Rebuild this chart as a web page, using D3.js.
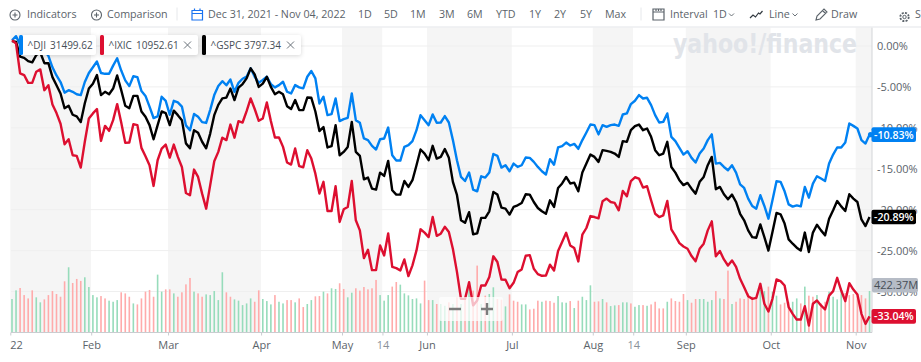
<!DOCTYPE html>
<html>
<head>
<meta charset="utf-8">
<script src="https://cdn.jsdelivr.net/npm/d3@7/dist/d3.min.js"></script>
<style>
  html, body { margin: 0; padding: 0; background: #fff; overflow: hidden; }
  svg { display: block; font-family: "Open Sans", sans-serif; }
</style>
</head>
<body>
<svg id="chart" width="921" height="362"></svg>
<script>
// % change since Dec 31 2021, one value per trading day from Jan 3 to Nov 4 2022
const dji = [
  0.7, 1.2, 0.2, -0.3, -0.3, -0.7, -0.3, -0.1, -0.6, -1.2,
  -2.6, -3.6, -4.4, -5.7, -5.4, -5.6, -5.9, -6.0, -4.4, -3.3,
  -2.6, -1.9, -3.3, -3.4, -3.4, -2.4, -1.5, -3.0, -4.2, -4.9,
  -3.7, -3.8, -5.5, -6.1, -7.4, -8.8, -8.6, -6.2, -6.7, -8.4,
  -6.7, -6.9, -7.4, -9.7, -10.3, -8.3, -8.65, -9.3, -9.4, -7.8,
  -6.0, -4.9, -4.3, -4.8, -4.1, -5.6, -4.5, -4.0, -3.75, -2.73,
  -3.76, -4.49, -4.16, -3.76, -4.65, -5.06, -4.78, -4.37, -5.59, -5.8,
  -4.78, -5.06, -5.18, -3.76, -3.06, -3.96, -7.02, -6.2, -8.45, -8.33,
  -6.41, -9.18, -8.94, -8.78, -5.8, -9.06, -9.39, -11.3, -11.5, -12.2,
  -12.65, -11.39, -11.3, -9.96, -13.35, -14.0, -14.0, -12.33, -12.12, -11.63,
  -10.29, -8.45, -9.06, -9.67, -8.37, -9.39, -9.35, -8.57, -9.35, -11.5,
  -13.96, -16.0, -16.5, -15.47, -17.55, -17.76, -15.92, -16.08, -15.47, -13.2,
  -13.43, -14.86, -14.57, -15.3, -14.37, -14.78, -14.57, -13.63, -13.67, -14.16,
  -14.78, -15.3, -15.7, -13.84, -14.5, -12.4, -12.24, -11.8, -12.16, -11.96,
  -12.57, -11.5, -10.57, -9.6, -9.67, -10.8, -9.67, -9.88, -9.67, -9.6,
  -9.76, -8.37, -8.24, -7.1, -6.69, -6.0, -6.41, -6.33, -7.22, -8.45,
  -9.35, -9.27, -8.24, -11.1, -11.63, -12.45, -13.27, -12.86, -13.67, -14.24,
  -13.14, -12.53, -11.5, -10.8, -14.37, -14.29, -14.78, -15.18, -14.57, -15.47,
  -16.9, -17.35, -18.65, -19.55, -19.88, -18.24, -19.55, -21.1, -18.86, -16.53,
  -16.6, -17.76, -19.35, -19.63, -19.47, -19.6, -17.22, -18.53, -16.82, -15.92,
  -16.2, -16.5, -14.37, -13.27, -12.4, -12.4, -11.8, -9.47, -9.76, -10.08,
  -11.5, -11.92, -10.83
];
const gspc = [
  0.6, 0.5, -1.3, -1.45, -1.85, -2.0, -1.1, -0.8, -2.1, -2.1,
  -3.8, -4.8, -5.8, -7.6, -7.3, -8.4, -8.6, -9.3, -7.0, -5.2,
  -4.6, -3.55, -6.0, -5.6, -5.9, -5.2, -3.6, -5.4, -7.3, -7.6,
  -6.1, -6.1, -8.0, -8.65, -9.67, -11.4, -9.67, -8.0, -8.2, -9.67,
  -7.9, -8.45, -9.06, -11.9, -12.5, -10.3, -10.6, -11.7, -12.5, -10.7,
  -8.45, -7.2, -6.4, -6.3, -5.2, -6.6, -5.1, -4.65, -3.96, -2.73,
  -3.47, -5.0, -4.6, -3.76, -5.0, -5.9, -5.6, -5.9, -7.35, -7.7,
  -6.6, -7.84, -7.84, -6.3, -6.33, -8.0, -10.4, -9.9, -12.4, -12.24,
  -9.67, -13.35, -12.94, -12.33, -9.27, -12.94, -13.43, -16.3, -16.08, -17.43,
  -17.55, -15.47, -15.88, -14.04, -17.63, -18.16, -18.16, -16.5, -17.22, -16.4,
  -14.57, -12.65, -13.14, -13.96, -12.2, -13.76, -13.55, -12.6, -13.67, -16.6,
  -18.2, -21.3, -21.6, -20.3, -23.0, -22.9, -21.0, -21.0, -20.2, -17.84,
  -18.16, -19.76, -19.88, -20.6, -19.67, -19.47, -19.18, -18.12, -18.16, -19.06,
  -19.8, -20.2, -20.5, -18.86, -19.67, -17.35, -16.8, -16.0, -16.8, -16.7,
  -17.76, -15.47, -14.37, -13.27, -13.55, -14.16, -12.73, -12.82, -12.94, -13.14,
  -13.55, -11.63, -11.71, -10.29, -9.8, -9.6, -10.29, -10.08, -11.1, -12.73,
  -13.35, -13.14, -11.71, -14.78, -15.47, -16.4, -17.0, -16.73, -17.43, -18.04,
  -16.6, -16.0, -14.57, -13.55, -17.5, -17.22, -18.12, -18.73, -18.16, -19.06,
  -20.5, -21.3, -22.53, -23.35, -23.43, -21.8, -23.35, -25.0, -22.73, -20.4,
  -20.57, -21.7, -23.63, -24.16, -24.65, -25.0, -22.8, -25.18, -22.8, -21.84,
  -22.53, -23.14, -21.1, -20.08, -18.94, -19.6, -20.16, -18.12, -18.65, -19.06,
  -21.2, -22.0, -20.89
];
const ixic = [
  0.7, 0.3, -3.35, -3.55, -4.5, -4.5, -3.14, -2.86, -5.4, -4.8,
  -7.14, -8.2, -9.5, -12.0, -11.4, -13.35, -13.43, -14.86, -11.7, -8.86,
  -8.24, -7.7, -11.6, -9.76, -10.37, -9.06, -7.1, -9.35, -11.84, -11.8,
  -9.55, -9.67, -12.45, -13.47, -14.57, -17.1, -13.96, -12.53, -12.04, -13.63,
  -12.04, -13.55, -14.78, -17.96, -18.24, -15.1, -16.0, -18.04, -19.88, -17.0,
  -14.08, -12.94, -11.2, -11.5, -9.6, -11.2, -9.18, -9.35, -7.96, -6.41,
  -7.7, -9.14, -8.86, -6.9, -9.18, -11.18, -11.18, -12.33, -14.24, -14.49,
  -12.53, -14.69, -14.82, -12.73, -13.76, -15.6, -18.04, -16.6, -20.16, -20.16,
  -17.14, -21.5, -19.96, -19.67, -16.5, -21.3, -22.53, -25.92, -24.9, -27.39,
  -27.39, -24.37, -25.6, -22.9, -27.0, -27.14, -27.43, -26.08, -28.12, -26.8,
  -24.98, -22.4, -22.8, -23.35, -20.9, -23.2, -22.94, -22.1, -22.73, -24.8,
  -27.6, -30.9, -30.9, -28.86, -31.7, -31.1, -29.27, -29.27, -28.24, -25.7,
  -26.4, -28.53, -28.57, -29.6, -28.94, -27.63, -27.3, -25.63, -25.55, -27.22,
  -27.88, -28.08, -28.04, -26.73, -27.43, -25.06, -23.96, -22.82, -24.37, -24.69,
  -26.33, -23.06, -22.24, -20.78, -20.9, -21.06, -18.98, -18.65, -19.06, -19.18,
  -20.08, -17.71, -18.37, -16.5, -16.04, -16.2, -17.3, -17.14, -18.86, -20.5,
  -20.9, -20.7, -18.94, -22.4, -23.2, -24.08, -24.5, -24.78, -25.67, -26.3,
  -24.78, -24.16, -22.53, -21.43, -25.7, -25.06, -26.08, -26.82, -26.2, -27.0,
  -28.45, -29.47, -30.57, -30.9, -30.78, -29.06, -31.5, -32.45, -30.9, -28.53,
  -28.73, -29.27, -31.9, -32.73, -33.43, -33.43, -31.8, -34.16, -31.5, -31.1,
  -31.7, -32.2, -30.5, -29.96, -28.33, -29.88, -31.18, -28.98, -29.76, -30.37,
  -32.73, -33.96, -33.04
];
// volume in millions
const volume = [
  341, 429, 453, 381, 347, 429, 358, 307, 337, 381,
  422, 392, 364, 521, 664, 504, 545, 525, 562, 463,
  381, 358, 371, 347, 324, 313, 330, 409, 398, 364,
  296, 286, 347, 416, 433, 364, 589, 416, 439, 439,
  398, 364, 409, 490, 555, 416, 398, 364, 388, 381,
  422, 330, 613, 409, 364, 337, 324, 279, 296, 347,
  313, 429, 341, 320, 286, 381, 313, 296, 330, 330,
  307, 347, 259, 290, 330, 368, 371, 416, 398, 450,
  443, 501, 443, 358, 405, 450, 426, 463, 439, 450,
  535, 381, 324, 381, 467, 514, 487, 398, 378, 341,
  347, 296, 528, 330, 330, 290, 290, 272, 307, 290,
  358, 290, 358, 443, 426, 681, 290, 375, 392, 460,
  341, 334, 266, 388, 324, 313, 286, 286, 235, 242,
  324, 313, 324, 320, 303, 371, 307, 303, 320, 249,
  324, 364, 330, 480, 313, 317, 341, 307, 269, 276,
  279, 307, 307, 296, 262, 279, 279, 272, 286, 313,
  245, 245, 313, 347, 320, 313, 392, 330, 303, 341,
  341, 341, 313, 330, 422, 347, 341, 630, 290, 313,
  347, 341, 398, 364, 347, 433, 422, 467, 416, 375,
  286, 303, 313, 313, 347, 296, 467, 375, 364, 381,
  296, 313, 416, 364, 337, 450, 402, 381, 392, 392,
  381, 347, 422.37
];
// 1 = up day (green), 0 = down day (red)
const volumeUp = [
  1, 1, 0, 0, 0, 0, 1, 1, 0, 0,
  0, 0, 0, 0, 1, 0, 0, 0, 1, 1,
  1, 1, 0, 0, 1, 1, 1, 0, 0, 0,
  1, 0, 0, 0, 0, 0, 1, 1, 0, 0,
  1, 0, 0, 0, 0, 1, 0, 0, 1, 1,
  1, 1, 1, 0, 0, 1, 1, 1, 1, 1,
  0, 0, 1, 1, 1, 0, 1, 1, 0, 0,
  1, 0, 0, 1, 1, 0, 0, 1, 0, 1,
  1, 0, 0, 1, 1, 0, 0, 0, 0, 0,
  0, 1, 1, 1, 0, 0, 1, 1, 1, 1,
  1, 1, 0, 0, 1, 0, 1, 1, 0, 1,
  0, 1, 0, 1, 0, 0, 1, 0, 1, 1,
  0, 0, 1, 0, 0, 0, 1, 1, 0, 0,
  0, 1, 0, 0, 0, 1, 1, 1, 0, 1,
  0, 1, 1, 1, 0, 0, 1, 0, 1, 1,
  0, 1, 1, 0, 1, 1, 0, 1, 0, 0,
  0, 0, 1, 0, 0, 0, 0, 1, 0, 0,
  1, 1, 1, 1, 0, 1, 0, 0, 1, 0,
  0, 0, 0, 0, 0, 1, 1, 0, 1, 1,
  0, 0, 0, 1, 1, 0, 1, 0, 0, 1,
  0, 0, 1, 1, 1, 1, 0, 0, 0, 0,
  0, 0, 1
];
const tickDays = [0, 20, 39, 62, 82, 92, 103, 124, 144, 154, 167, 188, 209];
const tickLabels = ["22", "Feb", "Mar", "Apr", "May", "14", "Jun", "Jul", "Aug", "14", "Sep", "Oct", "Nov"];
const pctTicks = [0, -5, -10, -15, -20, -25, -30];
const rangeButtons = ["1D", "5D", "1M", "3M", "6M", "YTD", "1Y", "2Y", "5Y", "Max"];
const rangeButtonX = [358, 384, 410, 439, 467, 496, 529, 554, 580, 605];

const svg = d3.select("#chart");
const lastDay = dji.length - 1;
const left = 12, plotRight = 872, plotBottom = 332.5;

const x = d3.scaleLinear().domain([0, lastDay]).range([left, left + 4.045 * lastDay]);
// month ticks sit just ahead of their bar
const xTick = d3.scaleLinear().domain([0.42, lastDay + 0.42]).range(x.range());
const y = d3.scaleLinear().domain([0, -30]).range([46, 291.5]);
const yVol = d3.scaleLinear().domain([0, 422.37]).range([plotBottom, 291]);

// alternating month bands
const bandEdges = tickDays.map(d => xTick(d)).concat([plotRight]);
svg.append("g").selectAll("rect")
  .data(d3.pairs(bandEdges))
  .join("rect")
    .attr("x", d => d[0])
    .attr("y", 27)
    .attr("width", d => d[1] - d[0])
    .attr("height", plotBottom - 27)
    .attr("fill", (d, i) => i % 2 ? "#fff" : "#f5f5f5");

// horizontal grid
svg.append("g").selectAll("line")
  .data(pctTicks)
  .join("line")
    .attr("x1", 11).attr("x2", plotRight)
    .attr("y1", d => y(d)).attr("y2", d => y(d))
    .attr("stroke", "#efefef");

// watermark sits behind the lines
svg.append("text")
  .attr("x", 673).attr("y", 53)
  .attr("font-family", "'DejaVu Sans', sans-serif")
  .attr("font-weight", 700)
  .attr("font-size", 27)
  .attr("fill", "#e1e4e9")
  .attr("textLength", 184)
  .attr("lengthAdjust", "spacingAndGlyphs")
  .text("yahoo!/finance");

// volume bars
svg.append("g").selectAll("rect")
  .data(volume)
  .join("rect")
    .attr("x", (d, i) => x(i) - 0.8)
    .attr("y", d => yVol(d))
    .attr("width", 1.6)
    .attr("height", d => plotBottom - yVol(d))
    .attr("fill", (d, i) => volumeUp[i] ? "#97dcbb" : "#ffabab");

// axes
const xAxis = d3.axisBottom(xTick).tickValues(tickDays).tickSize(3)
  .tickFormat((d, i) => tickLabels[i]);
const gx = svg.append("g")
  .attr("transform", `translate(0,${plotBottom})`)
  .call(xAxis);
gx.select(".domain").remove();
gx.selectAll("line").attr("stroke", "#c9ccd0");
gx.selectAll("text")
  .attr("y", 9)
  .attr("font-size", 11)
  .attr("font-family", "'Open Sans', sans-serif")
  .attr("fill", (d, i) => tickLabels[i] === "14" ? "#8a9199" : "#5b636a");
gx.select("text").attr("text-anchor", "start").attr("dx", -0.5);

svg.append("line")
  .attr("x1", 11).attr("x2", plotRight)
  .attr("y1", plotBottom).attr("y2", plotBottom)
  .attr("stroke", "#c9ccd0");

const yAxis = d3.axisRight(y).tickValues(pctTicks).tickSize(0).tickPadding(5)
  .tickFormat(d => d.toFixed(2) + "%");
const gy = svg.append("g")
  .attr("transform", `translate(${plotRight},0)`)
  .call(yAxis);
gy.select(".domain").remove();
gy.selectAll("text")
  .attr("font-size", 11)
  .attr("font-family", "'Open Sans', sans-serif")
  .attr("fill", "#5b636a");

svg.append("line")
  .attr("x1", plotRight).attr("x2", plotRight)
  .attr("y1", 27).attr("y2", plotBottom)
  .attr("stroke", "#d3d5d8");

// the three lines
const line = d3.line().x((d, i) => x(i)).y(d => y(d));
const seriesList = [
  { name: "^DJI", values: dji, color: "#0081f2" },
  { name: "^GSPC", values: gspc, color: "#000" },
  { name: "^IXIC", values: ixic, color: "#dd0f30" }
];
svg.append("g").selectAll("path")
  .data(seriesList)
  .join("path")
    .attr("d", d => line(d.values))
    .attr("fill", "none")
    .attr("stroke", d => d.color)
    .attr("stroke-width", 2.4)
    .attr("stroke-linejoin", "round");

// zoom control over the lines
svg.append("rect")
  .attr("x", 439).attr("y", 297).attr("width", 64).attr("height", 24)
  .attr("rx", 2).attr("fill", "#fff").attr("fill-opacity", 0.72);
svg.append("path")
  .attr("d", "M449 309h12M481 309h12M487 303v12")
  .attr("stroke", "#7c7c7c").attr("stroke-width", 2.4).attr("fill", "none");

// end-of-line labels
const endLabels = [
  { text: "-10.83%", value: dji[lastDay], color: "#0081f2" },
  { text: "-20.89%", value: gspc[lastDay], color: "#000" },
  { text: "-33.04%", value: ixic[lastDay], color: "#dd0f30" }
];
const endG = svg.append("g").selectAll("g")
  .data(endLabels)
  .join("g")
    .attr("transform", d => `translate(${plotRight},${y(d.value)})`);
endG.append("rect")
  .attr("x", -0.5).attr("y", -7.3)
  .attr("width", 44.5).attr("height", 14.6)
  .attr("rx", 2).attr("fill", d => d.color);
endG.append("text")
  .attr("x", 2).attr("y", 4)
  .attr("font-size", 10.6)
  .attr("font-weight", 600)
  .attr("fill", "#fff")
  .text(d => d.text);
svg.append("circle")
  .attr("cx", x(lastDay) + 1).attr("cy", y(dji[lastDay]))
  .attr("r", 2.6).attr("fill", "#0081f2");

svg.append("rect")
  .attr("x", plotRight).attr("y", yVol(volume[lastDay]) - 13)
  .attr("width", 46).attr("height", 14.6)
  .attr("rx", 2).attr("fill", "#b6bcc6");
svg.append("text")
  .attr("x", plotRight + 2).attr("y", yVol(volume[lastDay]) - 2)
  .attr("font-size", 11)
  .attr("fill", "#464e56")
  .text("422.37M");

// legend chips
const chips = [
  { x: 19, w: 77, name: "^DJI", val: "31499.62", color: "#0081f2", valX: 31, close: false },
  { x: 100, w: 98, name: "^IXIC", val: "10952.61", color: "#dd0f30", valX: 36, close: true },
  { x: 202, w: 99, name: "^GSPC", val: "3797.34", color: "#000", valX: 42, close: true }
];
const chipG = svg.append("g").selectAll("g")
  .data(chips)
  .join("g")
    .attr("transform", d => `translate(${d.x},35)`);
chipG.append("rect")
  .attr("width", d => d.w).attr("height", 20).attr("rx", 2)
  .attr("fill", "#fff")
  .style("filter", "drop-shadow(0 1px 2px rgba(0,0,0,.16))");
chipG.append("rect")
  .attr("width", 4).attr("height", 20).attr("rx", 1.5)
  .attr("fill", d => d.color);
chipG.append("text")
  .attr("x", 8.5).attr("y", 14)
  .attr("font-size", 10)
  .attr("fill", "#464e56")
  .text(d => d.name);
chipG.append("text")
  .attr("x", d => d.valX).attr("y", 14)
  .attr("font-size", 10)
  .attr("fill", "#464e56")
  .text(d => d.val);
chipG.filter(d => d.close).append("path")
  .attr("d", d => `M${d.w - 14} 6.5l7 7m0 -7l-7 7`)
  .attr("stroke", "#6b737b").attr("fill", "none");

// toolbar
const toolbar = svg.append("g").attr("font-size", 10.7).attr("fill", "#5b636a");
const toolText = [
  ["Indicators", 27], ["Comparison", 107], ["Dec 31, 2021 - Nov 04, 2022", 208],
  ["Interval", 670], ["1D", 713], ["Line", 769], ["Draw", 831], ["Settings", 915]
];
toolbar.selectAll("text.tool")
  .data(toolText)
  .join("text")
    .attr("class", "tool")
    .attr("x", d => d[1]).attr("y", 18)
    .text(d => d[0]);
toolbar.selectAll("text.range")
  .data(rangeButtons)
  .join("text")
    .attr("class", "range")
    .attr("x", (d, i) => rangeButtonX[i]).attr("y", 18)
    .text(d => d);

const icon = (d, color = "#5b636a", w = 1.1) => svg.append("path")
  .attr("d", d).attr("fill", "none").attr("stroke", color).attr("stroke-width", w);
svg.append("g").selectAll("circle")
  .data([15, 96.5])
  .join("circle")
    .attr("cx", d => d).attr("cy", 15).attr("r", 5)
    .attr("fill", "none").attr("stroke", "#5b636a").attr("stroke-width", 1.1);
icon("M12.5 15h5M15 12.5v5M94 15h5M96.5 12.5v5");
icon("M192 10.5h10.5v9.5h-10.5zM192 13.5h10.5M194.5 8.5v2M200 8.5v2", "#1a73f0", 1.2);
icon("M641 7.5v13M177 7.5v13", "#e6e8eb", 1);
icon("M653 9h11v11h-11zM653 12h11M656 9v2M658.5 9v2M661 9v2", "#5b636a", 1.2);
icon("M729 13.5l2.5 2.5 2.5-2.5M792.5 13.5l2.5 2.5 2.5-2.5", "#5b636a", 0.9);
icon("M750 18l3-3 2.5 2 3-4 1.5 1 2.5-3", "#333a41", 1.2);
icon("M816 20l1-4 7-7 3 3-7 7zM822.5 10.5l3 3", "#5b636a", 1.1);
svg.append("circle").attr("cx", 904.5).attr("cy", 17).attr("r", 4.2)
  .attr("fill", "none").attr("stroke", "#5b636a").attr("stroke-width", 1.8).attr("stroke-dasharray", "2 1.3");
svg.append("circle").attr("cx", 904.5).attr("cy", 17).attr("r", 1.7)
  .attr("fill", "none").attr("stroke", "#5b636a").attr("stroke-width", 1);

// line under the toolbar
svg.append("line")
  .attr("x1", 10).attr("x2", 921)
  .attr("y1", 27).attr("y2", 27)
  .attr("stroke", "#eceef0").attr("stroke-width", 1.5);
</script>
</body>
</html>
